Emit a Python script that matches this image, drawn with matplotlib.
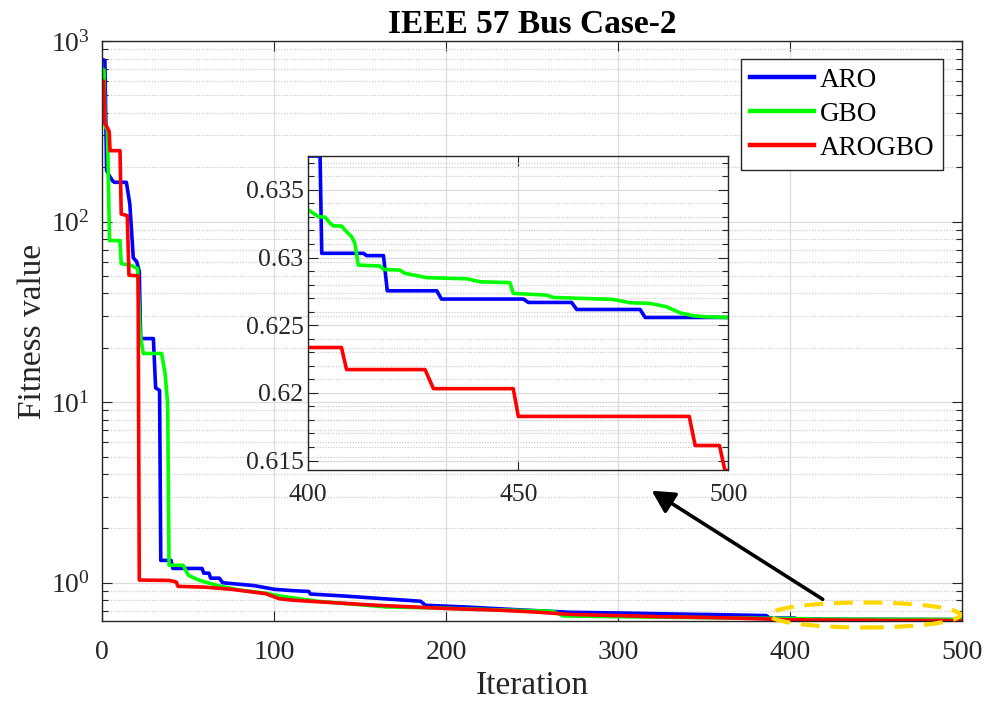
import numpy as np
import matplotlib
matplotlib.use("Agg")
import matplotlib.pyplot as plt
from matplotlib.patches import Ellipse, FancyArrowPatch
from matplotlib.ticker import NullFormatter, MultipleLocator

plt.rcParams['font.family'] = ['Liberation Serif', 'DejaVu Serif']
plt.rcParams['mathtext.fontset'] = 'custom'
plt.rcParams['mathtext.rm'] = 'Liberation Serif'
plt.rcParams['mathtext.it'] = 'Liberation Serif:italic'

# ---------------- data ----------------
aro_iter = [0, 1.5, 2.5, 4, 6, 7, 14, 16, 18, 20, 21.5, 22.3, 29.7, 31, 33.3, 34, 40, 41, 58, 59,
            62, 63, 68, 70, 80, 88, 100, 110, 120, 121, 140, 160, 185, 188, 210, 240, 272, 300, 330, 360,
            386, 388, 402.8, 403.2, 413.1, 413.9, 417.9, 418.8, 430.6, 431.7, 451.2, 452.4, 462.7, 463.9,
            479.0, 480.2, 500]
aro_val = [790, 780, 192, 180, 168, 165, 165, 125, 63, 60, 53, 22.5, 22.5, 12, 11.6, 1.33, 1.33, 1.20, 1.20, 1.13,
           1.13, 1.06, 1.06, 1.0, 0.98, 0.965, 0.92, 0.905, 0.895, 0.866, 0.845, 0.82, 0.79, 0.75, 0.735, 0.71, 0.686, 0.68, 0.672, 0.665,
           0.658, 0.6375, 0.6375, 0.63031, 0.63031, 0.63014, 0.63014, 0.62754, 0.62754, 0.62693, 0.62693, 0.62668, 0.62668, 0.62616,
           0.62616, 0.62557, 0.62557]

gbo_iter = [0, 1, 1.6, 3, 4.2, 10.3, 11, 17, 20.5, 22, 23.8, 34.5, 36.5, 38, 38.8, 47, 50, 56, 66, 80,
            95, 103, 125, 150, 165, 185, 200, 230, 262, 268, 320, 370,
            400, 401.2, 402.4, 404.0, 405.2, 406.0, 407.9, 409.1, 410.3, 411.1, 411.9, 417.1, 417.9, 421.8,
            423.0, 428.2, 437.7, 440.9, 448.0, 448.8, 456.7, 458.3, 472.6, 476.6, 481.3, 485.3, 488.5, 491.7,
            494.8, 500]
gbo_val = [700, 690, 340, 320, 78.5, 78.5, 58.5, 57, 55, 24, 18.6, 18.6, 14.4, 9.8, 1.25, 1.25, 1.10, 1.035, 0.97, 0.91,
           0.875, 0.845, 0.79, 0.755, 0.735, 0.728, 0.722, 0.708, 0.695, 0.655, 0.645, 0.638,
           0.63352, 0.63327, 0.63302, 0.63298, 0.63253, 0.63233, 0.63233, 0.63191, 0.63154, 0.63105, 0.62944, 0.62937, 0.62912, 0.62907,
           0.62883, 0.62851, 0.62843, 0.62821, 0.62814, 0.62735, 0.62722, 0.62705, 0.62690, 0.62666, 0.62661, 0.62636, 0.62591, 0.62569,
           0.62562, 0.62557]

arogbo_iter = [0, 0.8, 1.5, 3, 4, 4.5, 10.3, 11, 14.5, 15.5, 20.8, 21.5, 39, 43, 44, 60, 75, 95, 103, 111,
               130, 160, 180, 200, 230, 250, 265, 272, 320, 370, 390,
               400, 407.9, 409.1, 427.8, 429.8, 448.8, 450.0, 490.7, 492.1, 497.9, 499.2, 500]
arogbo_val = [600, 600, 350, 330, 316, 247, 247, 110, 108, 50.5, 50, 1.035, 1.03, 1.01, 0.955, 0.945, 0.92, 0.87, 0.815, 0.80,
              0.78, 0.75, 0.735, 0.72, 0.705, 0.69, 0.675, 0.668, 0.65, 0.637, 0.628,
              0.62335, 0.62335, 0.62172, 0.62172, 0.62031, 0.62031, 0.61826, 0.61826, 0.61611, 0.61611, 0.61426, 0.61426]

series_names = ['ARO', 'GBO', 'AROGBO']
series_colors = ['#0000FF', '#00FF00', '#FF0000']

main_xticks = [0, 100, 200, 300, 400, 500]
main_yticks = [1, 10, 100, 1000]
main_ytick_labels = [r'$10^0$', r'$10^1$', r'$10^2$', r'$10^3$']
inset_xticks = [400, 450, 500]
inset_yticks = [0.615, 0.62, 0.625, 0.63, 0.635]
inset_ytick_labels = ['0.615', '0.62', '0.625', '0.63', '0.635']

# ---------------- figure ----------------
W, H = 985, 704
fig = plt.figure(figsize=(W / 100, H / 100), dpi=100)
ax = fig.add_axes([102.3 / W, 1 - 621 / H, 860 / W, 580 / H])

data = [(aro_iter, aro_val), (gbo_iter, gbo_val), (arogbo_iter, arogbo_val)]
lw = 2.6
for (xs, ys), name, c in zip(data, series_names, series_colors):
    ax.plot(xs, ys, color=c, lw=lw, label=name)

ax.set_yscale('log')
ax.set_xlim(0, 500)
ax.set_ylim(0.614, 1000)
ax.set_xticks(main_xticks)
ax.set_yticks(main_yticks)
ax.set_yticklabels(main_ytick_labels)
ax.yaxis.set_minor_formatter(NullFormatter())
ax.tick_params(axis='both', which='both', direction='in', top=True, right=True,
               labelsize=20, colors='#262626', labelcolor='#262626')
ax.tick_params(which='major', length=7, width=0.8)
ax.tick_params(which='minor', length=4, width=0.8)
ax.tick_params(axis='x', pad=14)
ax.tick_params(axis='y', pad=9)
for lab in ax.get_yticklabels():
    lab.set_va('center_baseline')
ax.grid(True, which='major', color='#dcdcdc', lw=0.9, ls='-')
ax.grid(True, which='minor', axis='y', color='#cfcfcf', lw=0.9, ls=(0, (1, 1.2)))
ax.set_axisbelow(True)
for s in ax.spines.values():
    s.set_color('#262626')
    s.set_linewidth(1.0)

ax.set_xlabel('Iteration', fontsize=24, color='#262626', labelpad=4)
ax.set_ylabel('Fitness value', fontsize=24, color='#262626', labelpad=2)
ax.set_title('IEEE 57 Bus Case-2', fontsize=24, fontweight='bold', pad=6)

leg = ax.legend(loc='upper right', bbox_to_anchor=(943 / W, 1 - 59 / H),
                bbox_transform=fig.transFigure, borderaxespad=0,
                fontsize=19.5, handlelength=2.36, handletextpad=0.21,
                labelspacing=0.33, borderpad=0.33, fancybox=False,
                framealpha=1, edgecolor='#262626')
leg.get_frame().set_linewidth(1.0)
for l in leg.get_lines():
    l.set_linewidth(3.2)

# ---------------- inset ----------------
axi = fig.add_axes([308.3 / W, 1 - 470 / H, 420 / W, 314 / H])
axi.patch.set_alpha(0)
for (xs, ys), c in zip(data, series_colors):
    axi.plot(xs, ys, color=c, lw=lw)
axi.set_xlim(400, 500)
axi.set_ylim(0.6143, 0.6375)
axi.set_xticks(inset_xticks)
axi.set_yticks(inset_yticks)
axi.set_yticklabels(inset_ytick_labels)
axi.yaxis.set_minor_locator(MultipleLocator(0.001))
axi.tick_params(axis='both', which='both', direction='in', top=True, right=True,
                labelsize=18.5, colors='#262626', labelcolor='#262626')
axi.tick_params(which='major', length=7, width=0.8)
axi.tick_params(which='minor', length=4, width=0.8)
axi.tick_params(axis='x', pad=10)
axi.grid(True, which='major', color='#dcdcdc', lw=0.9, ls='-')
axi.grid(True, which='minor', axis='y', color='#cfcfcf', lw=0.9, ls=(0, (1, 1.2)))
axi.set_axisbelow(True)
for s in axi.spines.values():
    s.set_color('#262626')
    s.set_linewidth(1.0)

# ---------------- annotations ----------------
ell = Ellipse((865 / W, 1 - 615 / H), 190 / W, 25 / H, transform=fig.transFigure,
              fill=False, edgecolor='#FFD700', lw=3, ls=(0, (4.5, 2.6)), clip_on=False, zorder=5)
fig.add_artist(ell)
fig.add_artist(FancyArrowPatch(
    (822.7 / W, 1 - 599.3 / H), (651.7 / W, 1 - 490.7 / H), transform=fig.transFigure,
    arrowstyle='-|>,head_length=0.75,head_width=0.4', mutation_scale=18,
    color='black', lw=2.6, shrinkA=0, shrinkB=0, zorder=6))

fig.savefig('out.png', dpi=100)
